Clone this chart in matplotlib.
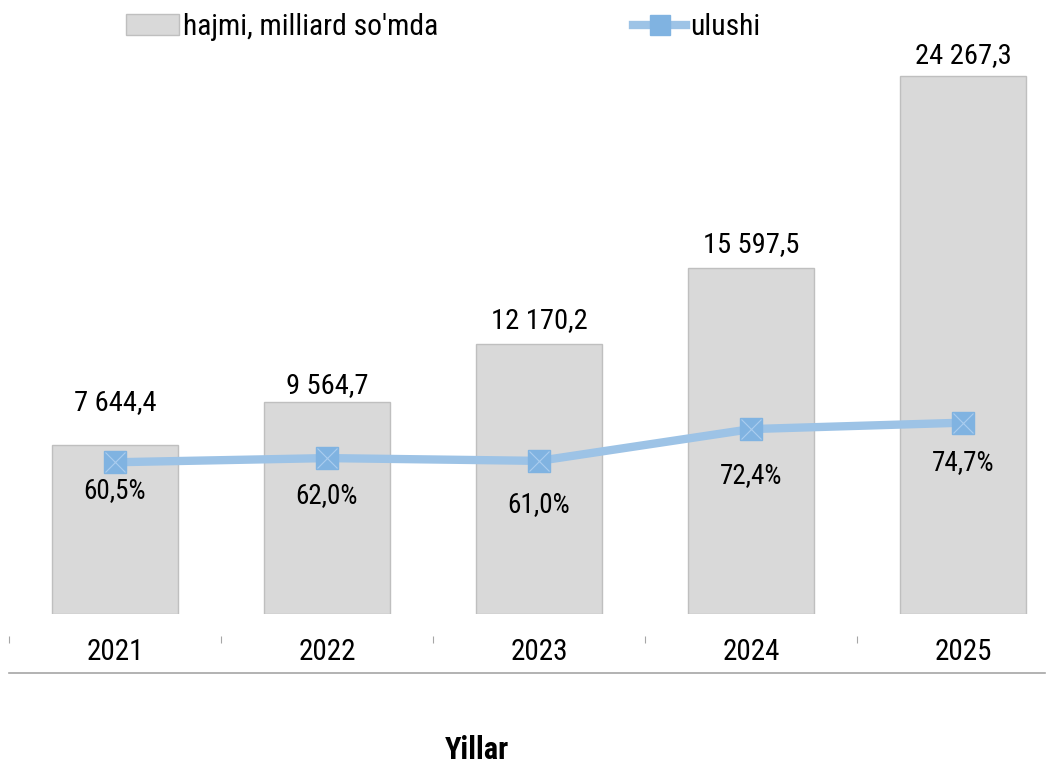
import numpy as np
import matplotlib
matplotlib.use('Agg')
import matplotlib.pyplot as plt
from matplotlib.lines import Line2D
from matplotlib.patches import Patch
from matplotlib import font_manager

# Ma'lumotlar
years = ['2021', '2022', '2023', '2024', '2025']
hajmi = [7644.4, 9564.7, 12170.2, 15597.5, 24267.3]
ulushi = [60.5, 62.0, 61.0, 72.4, 74.7]
hajmi_labels = ['7 644,4', '9 564,7', '12 170,2', '15 597,5', '24 267,3']
ulushi_labels = ['60,5%', '62,0%', '61,0%', '72,4%', '74,7%']

names = {f.name for f in font_manager.fontManager.ttflist}
family = 'Roboto Condensed' if 'Roboto Condensed' in names else 'Roboto'
plt.rcParams['font.family'] = [family, 'DejaVu Sans']

W, H = 1061, 767
fig = plt.figure(figsize=(W / 100, H / 100), dpi=100)

# o'qlar joylashuvi (piksellarda)
x0, x1 = 9, 1069
y_bot, y_top = 614, 40
ax = fig.add_axes([x0 / W, 1 - y_bot / H, (x1 - x0) / W, (y_bot - y_top) / H])
ax2 = ax.twinx()

bar_color = '#d9d9d9'
line_color = '#9dc3e6'

x = np.arange(len(years))
ax.bar(x, hajmi, width=0.59, color=bar_color, edgecolor='#bfbfbf', linewidth=1, zorder=2)
ax.set_xlim(-0.5, len(years) - 0.5)
ax.set_ylim(0, 25890)

ax2.plot(x, ulushi, color=line_color, linewidth=6, solid_capstyle='round', zorder=3)
ax2.plot(x, ulushi, linestyle='none', marker='s', markersize=16.5,
         markerfacecolor='#80b3e1', markeredgecolor='#80b3e1', zorder=4)
ax2.plot(x, ulushi, linestyle='none', marker='x', markersize=14,
         markeredgecolor='#aacdef', markeredgewidth=0.8, zorder=5)
ax2.set_ylim(6.1, 211.9)

# yorliqlar
bar_offsets = [42, 16, 24, 24, 20]
for xi, v, lab, off in zip(x, hajmi, hajmi_labels, bar_offsets):
    ax.annotate(lab, (xi, v), xytext=(0, off), textcoords='offset pixels',
                ha='center', va='center', fontsize=20.5, color='black')

pct_offsets = [-28, -37, -44, -46, -40]
for xi, v, lab, off in zip(x, ulushi, ulushi_labels, pct_offsets):
    ax2.annotate(lab, (xi, v), xytext=(0, off), textcoords='offset pixels',
                 ha='center', va='center', fontsize=19.5, color='black', zorder=6)

for a in (ax, ax2):
    for s in a.spines.values():
        s.set_visible(False)
    a.set_yticks([])

ax.spines['bottom'].set_position(('outward', 16))
ax.set_xticks(x)
ax.set_xticklabels(years, fontsize=21)
ax.set_xticks(np.arange(-0.5, len(years)), minor=True)
ax.tick_params(axis='x', which='major', length=0, pad=1)
ax.tick_params(axis='x', which='minor', length=5, width=0.8, color='#a6a6a6')

fig.add_artist(Line2D([x0 / W, 1045 / W], [1 - 673 / H, 1 - 673 / H],
                      color='#a6a6a6', linewidth=1.2))

fig.text(477 / W, 1 - 759 / H, 'Yillar', ha='center', va='baseline',
         fontsize=22, fontweight='bold')

handles = [
    Patch(facecolor=bar_color, edgecolor='#bfbfbf', label="hajmi, milliard so'mda"),
    Line2D([], [], color=line_color, linewidth=6, marker='s', markersize=14,
           markerfacecolor='#80b3e1', markeredgecolor='#80b3e1', label='ulushi'),
]
fig.legend(handles=handles, loc='center left', bbox_to_anchor=(126 / W, 1 - 27 / H),
           ncol=2, frameon=False, fontsize=21.3, handlelength=1.78, handletextpad=0.14,
           columnspacing=6.6, borderaxespad=0, borderpad=0)

fig.savefig('out.png', dpi=100)
